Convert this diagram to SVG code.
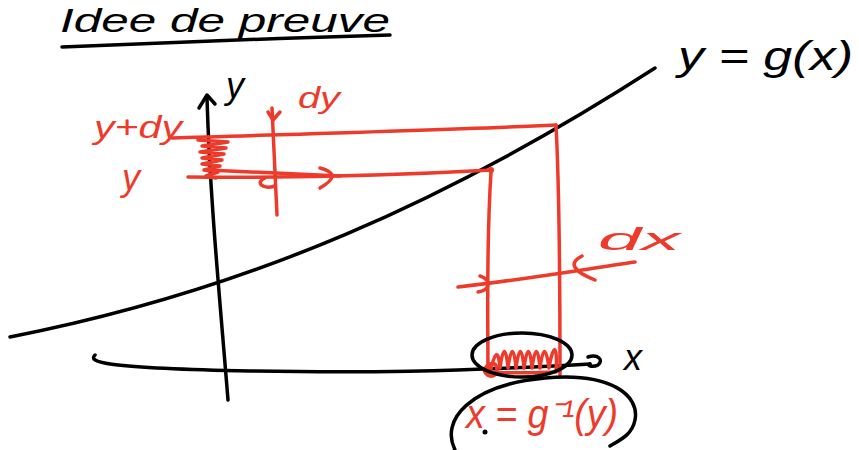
<svg xmlns="http://www.w3.org/2000/svg" width="859" height="450" viewBox="0 0 859 450">
<style>
.k{fill:none;stroke:#000;stroke-width:3.5;stroke-linecap:round;stroke-linejoin:round}
.r{fill:none;stroke:#ee3a2a;stroke-width:3.5;stroke-linecap:round;stroke-linejoin:round}
.tk{font-family:"Liberation Sans",Arial,sans-serif;font-style:italic;fill:#000}
.tr{font-family:"Liberation Sans",Arial,sans-serif;font-style:italic;fill:#ee3a2a}
</style>
<rect width="859" height="450" fill="#fff"/>
<g id="title">
<text class="tk" x="60" y="32" font-size="34" textLength="330" lengthAdjust="spacingAndGlyphs">Idee de preuve</text>
<path class="k" d="M62,47 C150,43 280,38 390,35"/>
</g>
<g id="curve">
<path class="k" d="M10,337 C250,290 450,200 655,68"/>
<text class="tk" x="678" y="70" font-size="40" textLength="175" lengthAdjust="spacingAndGlyphs">y = g(x)</text>
</g>
<g id="axes">
<path class="k" d="M228,400 C220,300 210,200 207,98"/>
<path class="k" d="M199,108 L207,95 L215,104"/>
<text class="tk" x="226" y="98" font-size="36">y</text>
<path class="k" d="M95,355 C88,362 100,368 250,371 C360,373 450,372 590,364"/>
<path class="k" d="M588,357 C598,354 604,360 598,365 C592,368 586,365 590,364"/>
<text class="tk" x="624" y="370" font-size="36">x</text>
</g>
<g id="red-lines">
<path class="r" d="M172,138 C300,134 450,130 556,125"/>
<path class="r" d="M556,125 C560,200 560,290 560,375"/>
<path class="r" d="M188,177 C300,178 420,174 492,170"/>
<circle cx="491" cy="170" r="3" fill="#ee3a2a"/>
<path class="r" d="M491,172 C486,250 488,320 488,375"/>
<path class="r" d="M272,108 L277,215"/>
<path class="r" d="M268,112 L273,120 L280,112"/>
<path class="r" d="M265,178 C255,182 262,190 275,186"/>
<path class="r" d="M320,168 C335,172 337,178 320,188"/>
<path class="r" d="M208,170 L340,176"/>
<path class="r" d="M198,140 L228,142 L202,146 L226,148 L200,152 L224,154 L202,158 L222,160 L202,164 L220,166 L204,170 L218,172 L206,176 L216,178"/>
<path class="r" d="M458,287 C520,280 580,270 635,262"/>
<path class="r" d="M480,276 C492,280 490,290 478,292"/>
<path class="r" d="M582,256 C570,262 570,270 595,280"/>
<path class="r" d="M490,372 C494,356 498,345 500,368 C503,346 506,346 508,368 C511,346 514,346 516,368 C519,346 522,346 524,368 C527,346 530,346 532,368 C535,346 538,346 540,368 C543,346 546,346 549,368 C553,344 558,342 556,372 C540,372 510,374 490,372"/>
<path class="r" d="M484,370 C490,360 500,362 496,374 C492,378 486,376 484,370"/>
</g>
<g id="labels">
<text class="tr" x="94" y="138" font-size="32" textLength="88" lengthAdjust="spacingAndGlyphs">y+dy</text>
<text class="tr" x="122" y="190" font-size="36">y</text>
<text class="tr" x="298" y="108" font-size="30" textLength="42" lengthAdjust="spacingAndGlyphs">dy</text>
<text class="tr" x="598" y="250" font-size="32" textLength="82" lengthAdjust="spacingAndGlyphs">dx</text>
<text class="tr" x="466" y="428" font-size="40" textLength="152" lengthAdjust="spacingAndGlyphs">x = g⁻¹(y)</text>
</g>
<g id="ellipses">
<ellipse class="k" cx="522" cy="355" rx="50" ry="22"/>
<path class="k" d="M455,450 C440,420 470,385 545,378 C610,372 640,395 635,420 C632,435 620,440 610,446"/>
<circle cx="485" cy="432" r="2.5" fill="#000"/>
</g>
</svg>
